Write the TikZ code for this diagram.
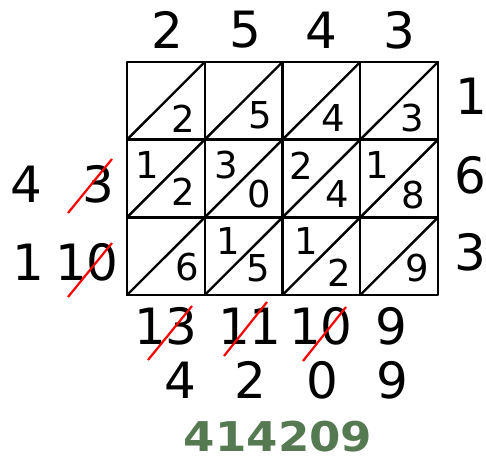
\documentclass[tikz,border=0pt]{standalone}
\usepackage{fontspec}
\setmainfont{DejaVu Sans}
\definecolor{resgreen}{RGB}{85,122,82}
\tikzset{
  big/.style={inner sep=0pt, font=\fontsize{50}{60}\selectfont},
  cell/.style={inner sep=0pt, font=\fontsize{37}{44}\selectfont},
  res/.style={inner sep=0pt, text=resgreen, font=\fontsize{41}{50}\selectfont\bfseries},
  grid/.style={line width=2.4pt, line cap=round, line join=round},
  cross/.style={red, line width=2.2pt}
}
\begin{document}
\begin{tikzpicture}[x=1pt,y=-1pt]
\useasboundingbox (0,0) rectangle (486,462);
% grid
\foreach \i in {0,...,3} {
  \pgfmathsetmacro{\xa}{127+\i*77.75}
  \pgfmathsetmacro{\xb}{127+(\i+1)*77.75}
  \foreach \j in {0,...,2} {
    \pgfmathsetmacro{\ya}{62+\j*77.67}
    \pgfmathsetmacro{\yb}{62+(\j+1)*77.67}
    \draw[grid] (\xa,\ya) rectangle (\xb,\yb);
    \draw[grid] (\xa,\yb) -- (\xb,\ya);
  }
}
% top factor
\node[big] (t1) at (167,30) {2};
\node[big] (t2) at (245,30) {5};
\node[big] (t3) at (321,30) {4};
\node[big] (t4) at (399,30) {3};
% right factor
\node[big] (r1) at (471,96) {1};
\node[big] (r2) at (470,175) {6};
\node[big] (r3) at (470,252) {3};
% left carries
\node[big] (l1) at (26,184) {4};
\node[big] (l2) at (98,184) {3};
\node[big] (l3) at (28,262) {1};
\node[big] (l4) at (87,262) {10};
\draw[cross] (68,213) -- (112,159);
\draw[cross] (68,297) -- (112,243);
% bottom sums
\node[big] (b1) at (166,326) {13};
\node[big] (b2) at (250,326) {11};
\node[big] (b3) at (321,326) {10};
\node[big] (b4) at (391,326) {9};
\node[big] (c1) at (180,380) {4};
\node[big] (c2) at (250,380) {2};
\node[big] (c3) at (322,380) {0};
\node[big] (c4) at (392,380) {9};
\draw[cross] (148,360) -- (192,306);
\draw[cross] (224,356) -- (267,302);
\draw[cross] (303,361) -- (346,307);
% cell digits
\node[cell] (a11) at (183,119) {2};
\node[cell] (a12) at (260,115) {5};
\node[cell] (a13) at (333,118) {4};
\node[cell] (a14) at (412,118) {3};
\node[cell] (u21) at (147,165) {1};
\node[cell] (u22) at (226,165) {3};
\node[cell] (u23) at (301,166) {2};
\node[cell] (u24) at (377,165) {1};
\node[cell] (a21) at (183,192) {2};
\node[cell] (a22) at (259,194) {0};
\node[cell] (a23) at (337,194) {4};
\node[cell] (a24) at (413,195) {8};
\node[cell] (u32) at (228,241) {1};
\node[cell] (u33) at (306,241) {1};
\node[cell] (a31) at (187,267) {6};
\node[cell] (a32) at (258,268) {5};
\node[cell] (a33) at (339,273) {2};
\node[cell] (a34) at (417,268) {9};
% result
\node[res, xscale=1.1] (result) at (278,437) {414209};
\end{tikzpicture}
\end{document}
